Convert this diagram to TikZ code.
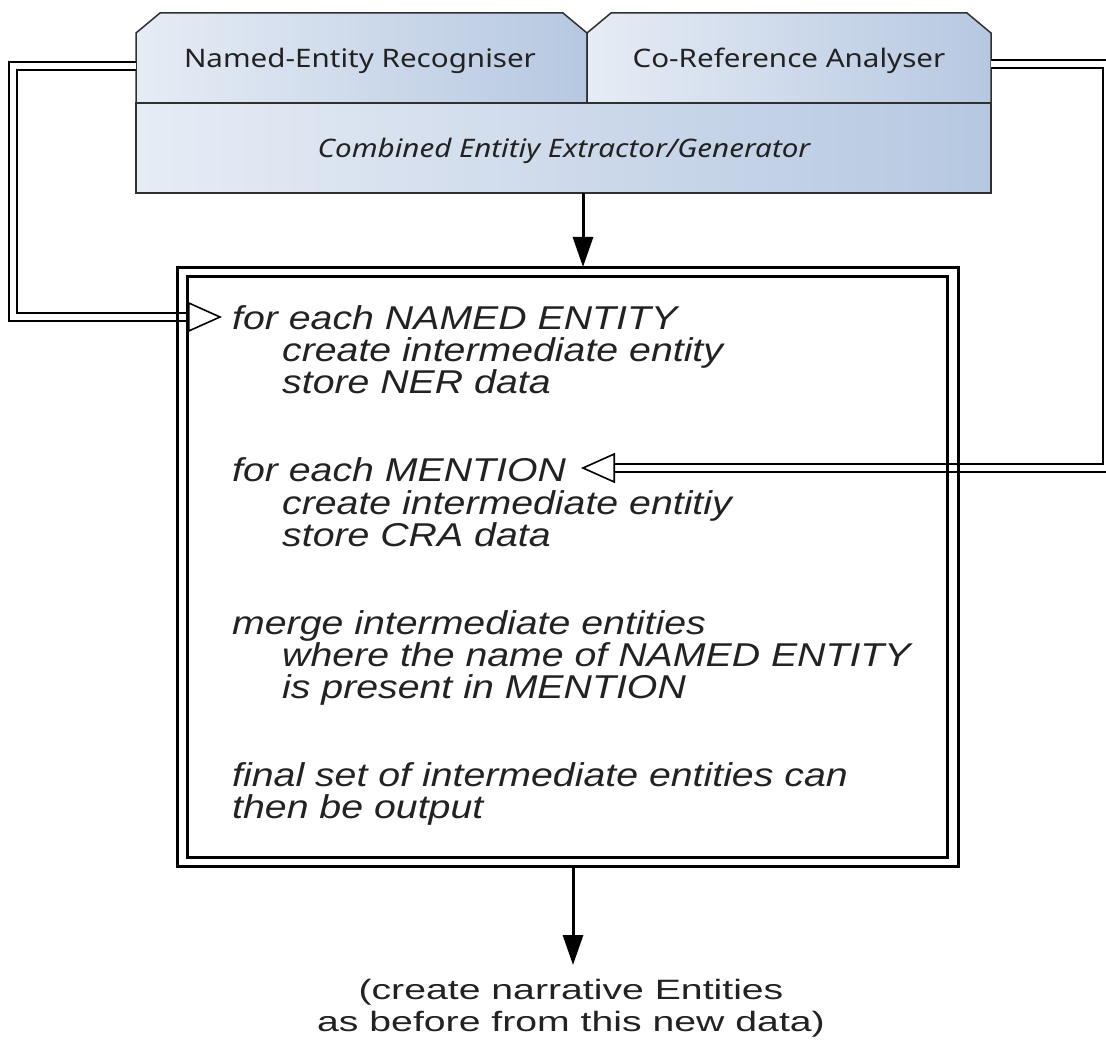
\documentclass[tikz,border=0pt]{standalone}
\usepackage{fontspec}
\setmainfont[FakeStretch=1.19]{Liberation Sans}
\newfontfamily\notefont[FakeStretch=1.4]{Liberation Sans}
\newfontfamily\boxfont[FakeStretch=1.16]{Noto Sans}
\usetikzlibrary{arrows.meta}
\definecolor{shadeL}{HTML}{E6ECF5}
\definecolor{shadeR}{HTML}{B6C8E1}
\definecolor{edge}{HTML}{303030}
\definecolor{ink}{HTML}{222222}
\begin{document}
\begin{tikzpicture}[x=1pt,y=-1pt,
  boxedge/.style={draw=edge, line width=1.5pt, line join=miter, left color=shadeL, right color=shadeR},
  boxtext/.style={anchor=base, inner sep=0, text=ink, font=\boxfont\fontsize{25.5}{30}\selectfont},
  bodyline/.style={anchor=base west, inner sep=0, text=ink, font=\fontsize{33}{38}\selectfont\itshape},
  notetext/.style={anchor=base, inner sep=0, text=ink, font=\notefont\fontsize{28}{32}\selectfont},
  boxline/.style={draw=black, line width=3pt, inner sep=0},
  feed/.style={draw=black, double=white, double distance=5.5pt, line width=1.8pt, line join=miter,
    -{Triangle[length=34pt, width=30pt, line width=1.6pt, fill=white]}},
  flow/.style={draw=black, line width=3pt, -{Triangle[length=30pt, width=20pt]}}
]
\useasboundingbox (0,0) rectangle (1106,1040);

% component header: two tabs over one shared base
\path[boxedge] (136,103) -- (136,33) -- (160,13) -- (563,13) -- (587,33) -- (587,103) -- cycle;
\path[boxedge] (587,103) -- (587,33) -- (611,13) -- (967,13) -- (991,33) -- (991,103) -- cycle;
\path[boxedge] (136,103) rectangle (991,193);
\node[boxtext] (ner) at (360,68) {Named-Entity Recogniser};
\node[boxtext] (cra) at (789,68) {Co-Reference Analyser};
\node[boxtext, font=\boxfont\fontsize{25.5}{30}\selectfont\itshape] (comb) at (564,158) {Combined Entitiy Extractor/Generator};

% connector end points
\coordinate (nerW) at (136,66);
\coordinate (lbend) at (13,317);
\coordinate (tipA) at (222,317);
\coordinate (craE) at (991,64);
\coordinate (rbend) at (1107,468);
\coordinate (tipB) at (581,468);
\coordinate (combS) at (583,193);
\coordinate (procN) at (583,267);
\coordinate (procS) at (573,866);
\coordinate (outTip) at (573,965);

% data feeds into the algorithm
\draw[feed] (nerW) -| (lbend) -- (tipA);
\draw[feed] (craE) -| (rbend) -- (tipB);

% algorithm box (double frame)
\node[boxline, minimum width=781pt, minimum height=598pt] (proc) at (567.5,567) {};
\node[boxline, minimum width=760pt, minimum height=580pt] (procIn) at (567,567) {};

\draw[flow] (combS) -- (procN);
\draw[flow] (procS) -- (outTip);

% algorithm text
\node[bodyline] (l1) at (232,330) {for each NAMED ENTITY};
\node[bodyline] (l2) at (282,362) {create intermediate entity};
\node[bodyline] (l3) at (282,394) {store NER data};
\node[bodyline] (l4) at (232,482) {for each MENTION};
\node[bodyline] (l5) at (282,514) {create intermediate entitiy};
\node[bodyline] (l6) at (282,546) {store CRA data};
\node[bodyline] (l7) at (232,634) {merge intermediate entities};
\node[bodyline] (l8) at (282,666) {where the name of NAMED ENTITY};
\node[bodyline] (l9) at (282,698) {is present in MENTION};
\node[bodyline] (l10) at (232,786) {final set of intermediate entities can};
\node[bodyline] (l11) at (232,818) {then be output};

% output note
\node[notetext] (note1) at (571,999) {(create narrative Entities};
\node[notetext] (note2) at (571,1031) {as before from this new data)};
\end{tikzpicture}
\end{document}
